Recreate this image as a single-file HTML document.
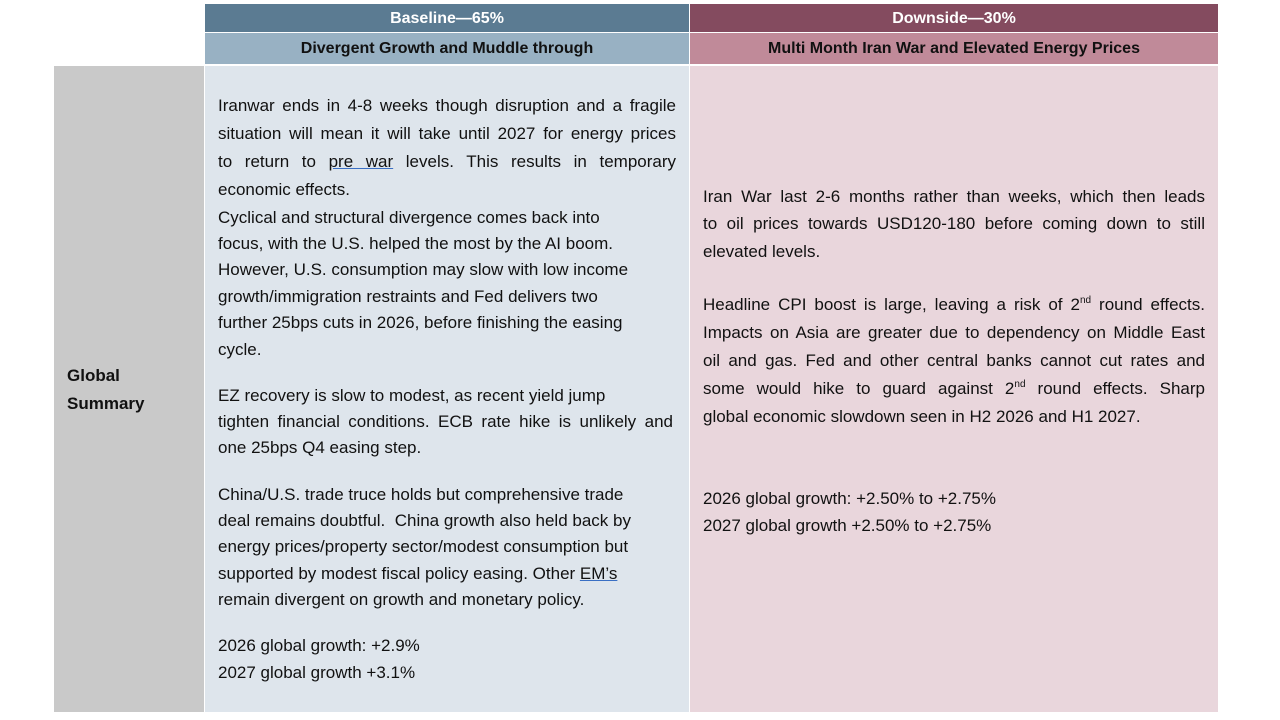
<!DOCTYPE html>
<html><head><meta charset="utf-8"><style>
body{margin:0;width:1280px;height:720px;background:#fff;position:relative;overflow:hidden;font-family:"Liberation Sans",sans-serif;}
.b{position:absolute;}
.t{position:absolute;white-space:nowrap;font-size:17px;color:#111;line-height:20px;margin-top:2px;}
.j{text-align:justify;text-align-last:justify;}
.h{position:absolute;text-align:center;font-weight:bold;font-size:16px;line-height:20px;margin-top:1px;}
sup{font-size:10px;line-height:0;vertical-align:7px;}
u{text-decoration:underline;text-decoration-color:#3a6fc4;}
</style></head><body>
<div class="b" style="left:205px;top:4px;width:484px;height:28px;background:#5b7b92"></div>
<div class="b" style="left:690px;top:4px;width:528px;height:28px;background:#844b5f"></div>
<div class="b" style="left:205px;top:33px;width:484px;height:31px;background:#98b1c3"></div>
<div class="b" style="left:690px;top:33px;width:528px;height:31px;background:#c08a99"></div>
<div class="b" style="left:54px;top:66px;width:150px;height:646px;background:#c9c9c9"></div>
<div class="b" style="left:205px;top:66px;width:484px;height:646px;background:#dee5ec"></div>
<div class="b" style="left:690px;top:66px;width:528px;height:646px;background:#e9d6dc"></div>

<div class="h" style="left:205px;width:484px;top:8px;color:#fff">Baseline—65%</div>
<div class="h" style="left:690px;width:528px;top:8px;color:#fff">Downside—30%</div>
<div class="h" style="left:205px;width:484px;top:38px;color:#111">Divergent Growth and Muddle through</div>
<div class="h" style="left:690px;width:528px;top:38px;color:#111">Multi Month Iran War and Elevated Energy Prices</div>

<div class="t" style="left:67px;top:364px;font-weight:bold">Global</div>
<div class="t" style="left:67px;top:392px;font-weight:bold">Summary</div>

<div class="t j" style="left:218px;width:458px;top:94px">Iranwar ends in 4-8 weeks though disruption and a fragile</div>
<div class="t j" style="left:218px;width:458px;top:122px">situation will mean it will take until 2027 for energy prices</div>
<div class="t j" style="left:218px;width:458px;top:150px">to return to <u>pre war</u> levels. This results in temporary</div>
<div class="t" style="left:218px;top:178px">economic effects.</div>
<div class="t" style="left:218px;top:206px">Cyclical and structural divergence comes back into</div>
<div class="t" style="left:218px;top:232px">focus, with the U.S. helped the most by the AI boom.</div>
<div class="t" style="left:218px;top:258px">However, U.S. consumption may slow with low income</div>
<div class="t" style="left:218px;top:285px">growth/immigration restraints and Fed delivers two</div>
<div class="t" style="left:218px;top:311px">further 25bps cuts in 2026, before finishing the easing</div>
<div class="t" style="left:218px;top:338px">cycle.</div>
<div class="t" style="left:218px;top:384px">EZ recovery is slow to modest, as recent yield jump</div>
<div class="t j" style="left:218px;width:455px;top:410px">tighten financial conditions. ECB rate hike is unlikely and</div>
<div class="t" style="left:218px;top:436px">one 25bps Q4 easing step.</div>
<div class="t" style="left:218px;top:483px">China/U.S. trade truce holds but comprehensive trade</div>
<div class="t" style="left:218px;top:509px">deal remains doubtful.&nbsp; China growth also held back by</div>
<div class="t" style="left:218px;top:535px">energy prices/property sector/modest consumption but</div>
<div class="t" style="left:218px;top:562px">supported by modest fiscal policy easing. Other <u>EM’s</u></div>
<div class="t" style="left:218px;top:588px">remain divergent on growth and monetary policy.</div>
<div class="t" style="left:218px;top:634px">2026 global growth: +2.9%</div>
<div class="t" style="left:218px;top:661px">2027 global growth +3.1%</div>

<div class="t j" style="left:703px;width:502px;top:185px">Iran War last 2-6 months rather than weeks, which then leads</div>
<div class="t j" style="left:703px;width:502px;top:212px">to oil prices towards USD120-180 before coming down to still</div>
<div class="t" style="left:703px;top:240px">elevated levels.</div>
<div class="t j" style="left:703px;width:502px;top:293px">Headline CPI boost is large, leaving a risk of 2<sup>nd</sup> round effects.</div>
<div class="t j" style="left:703px;width:502px;top:321px">Impacts on Asia are greater due to dependency on Middle East</div>
<div class="t j" style="left:703px;width:502px;top:349px">oil and gas. Fed and other central banks cannot cut rates and</div>
<div class="t j" style="left:703px;width:502px;top:377px">some would hike to guard against 2<sup>nd</sup> round effects. Sharp</div>
<div class="t" style="left:703px;top:405px">global economic slowdown seen in H2 2026 and H1 2027.</div>
<div class="t" style="left:703px;top:487px">2026 global growth: +2.50% to +2.75%</div>
<div class="t" style="left:703px;top:514px">2027 global growth +2.50% to +2.75%</div>
</body></html>
